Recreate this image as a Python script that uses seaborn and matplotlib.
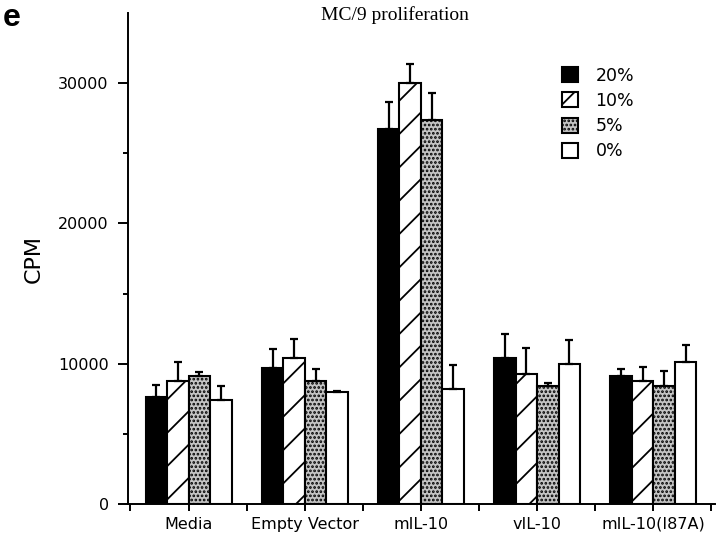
import numpy as np
import pandas as pd
import matplotlib
matplotlib.use("Agg")
import matplotlib.pyplot as plt
import seaborn as sns

# values (CPM)
groups = ["Media", "Empty Vector", "mIL-10", "vIL-10", "mIL-10(I87A)"]
levels = ["20%", "10%", "5%", "0%"]
cpm_20 = [7600, 9700, 26700, 10400, 9100]
cpm_10 = [8800, 10400, 30000, 9300, 8800]
cpm_5 = [9100, 8800, 27400, 8400, 8400]
cpm_0 = [7400, 8000, 8200, 10000, 10100]
err_20 = [900, 1350, 1950, 1700, 500]
err_10 = [1300, 1400, 1400, 1850, 1000]
err_5 = [300, 800, 1900, 200, 1100]
err_0 = [1000, 60, 1700, 1700, 1250]

df = pd.DataFrame({
    "group": groups * 4,
    "level": [lv for lv in levels for _ in groups],
    "cpm": cpm_20 + cpm_10 + cpm_5 + cpm_0,
    "err": err_20 + err_10 + err_5 + err_0,
})

sns.set_theme(style="ticks")
plt.rcParams["font.family"] = ["DejaVu Sans"]
plt.rcParams["text.color"] = "black"
plt.rcParams["axes.labelcolor"] = "black"
plt.rcParams["hatch.linewidth"] = 1.3

fig = plt.figure(figsize=(7.2, 5.42), dpi=100)
ax = fig.add_axes([0.178, 0.070, 0.815, 0.906])

sns.barplot(data=df, x="group", y="cpm", hue="level", order=groups,
            hue_order=levels, width=0.74, errorbar=None, ax=ax, legend=False)
bar_conts = list(ax.containers)

styles = {
    "20%": dict(fc="black", hatch=None),
    "10%": dict(fc="white", hatch="/"),
    "5%": dict(fc="#c4c4c4", hatch="...."),
    "0%": dict(fc="white", hatch=None),
}
for lv, cont in zip(levels, bar_conts):
    for bar in cont:
        bar.set_facecolor(styles[lv]["fc"])
        bar.set_edgecolor("black")
        bar.set_linewidth(1.5)
        if styles[lv]["hatch"]:
            bar.set_hatch(styles[lv]["hatch"])
    sub = df[df["level"] == lv].set_index("group").loc[groups]
    xs = [b.get_x() + b.get_width() / 2 for b in cont]
    hs = [b.get_height() for b in cont]
    ax.errorbar(xs, hs, yerr=[np.zeros(len(xs)), sub["err"].values], fmt="none",
                ecolor="black", elinewidth=1.6, capsize=3.2, capthick=1.6, zorder=1)

ax.legend(handles=[c.patches[0] for c in bar_conts], labels=levels,
          loc="upper left", bbox_to_anchor=(0.727, 0.905), frameon=False,
          fontsize=12.5, handlelength=0.95, handleheight=0.95,
          handletextpad=1.0, labelspacing=0.42, borderaxespad=0)

ax.set_ylim(0, 35000)
ax.set_xlim(-0.52, 4.53)
ax.set_yticks([0, 10000, 20000, 30000])
ax.set_yticks([5000, 15000, 25000], minor=True)
ax.set_xticks(np.arange(-0.5, 5, 1.0), minor=True)
ax.set_xticks(range(len(groups)))
ax.set_xticklabels(groups)
ax.set_xlabel("")
ax.set_ylabel("CPM", fontsize=16, labelpad=10)
ax.tick_params(axis="both", which="both", direction="out", width=1.4,
               colors="black", labelsize=11.5)
ax.tick_params(axis="y", which="major", length=7, pad=7)
ax.tick_params(axis="y", which="minor", length=3.6)
ax.tick_params(axis="x", which="both", length=5, pad=4)
sns.despine(ax=ax)
for s in ["left", "bottom"]:
    ax.spines[s].set_linewidth(1.4)
    ax.spines[s].set_color("black")

fig.text(0.549, 0.972, "MC/9 proliferation", ha="center", va="center",
         fontsize=14, family="Liberation Serif")
fig.text(0.004, 0.995, "e", ha="left", va="top", fontsize=23,
         fontweight="bold", family="Liberation Sans")

fig.savefig("out.png", dpi=100, facecolor="white")
